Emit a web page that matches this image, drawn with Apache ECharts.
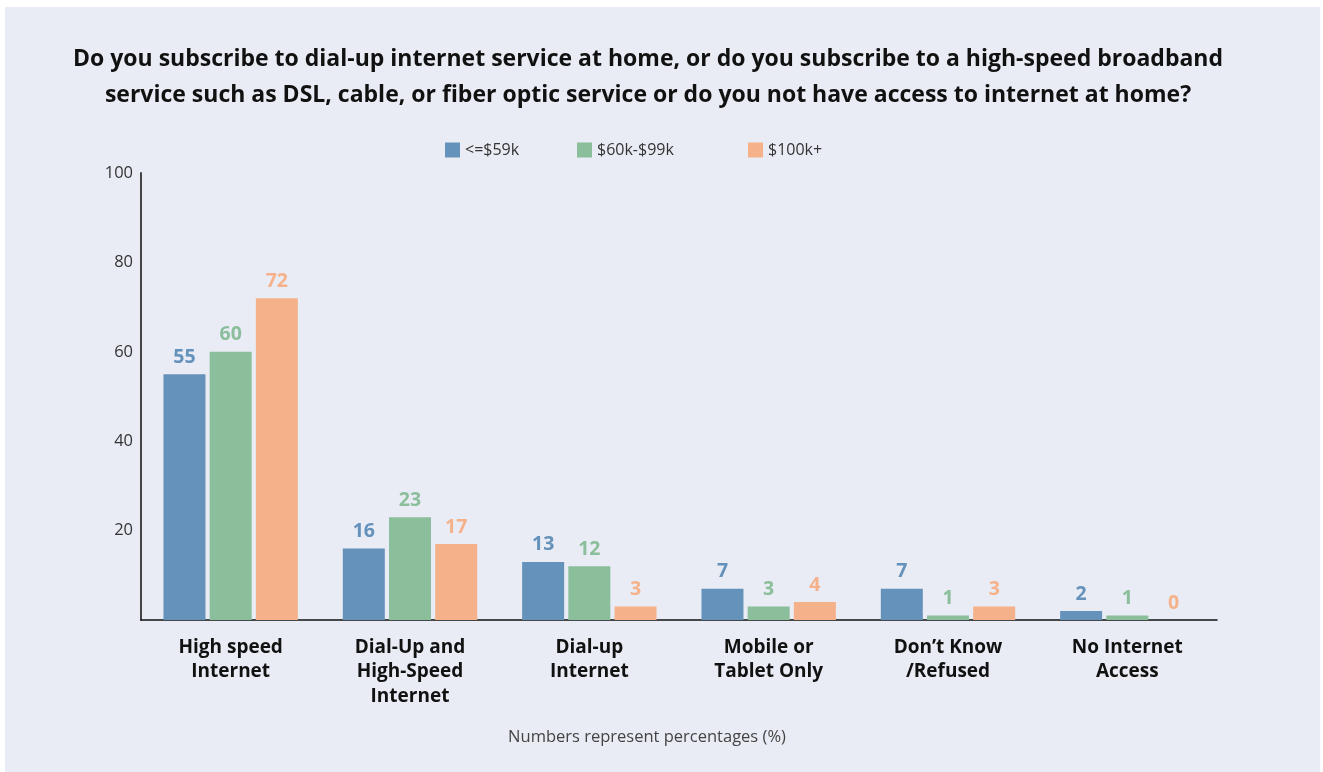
<!DOCTYPE html>
<html>
<head>
<meta charset="utf-8">
<script src="https://cdn.jsdelivr.net/npm/echarts@6/dist/echarts.min.js"></script>
<style>
  html, body { margin: 0; padding: 0; background: #ffffff; }
  #chart { position: absolute; left: 5px; top: 7px; width: 1315px; height: 765px; background: #e9ecf4; }
</style>
</head>
<body>
<div id="chart"></div>
<script>
// Survey answers by household income
const categories = [
  'High speed\nInternet',
  'Dial-Up and\nHigh-Speed\nInternet',
  'Dial-up\nInternet',
  'Mobile or\nTablet Only',
  'Don\u2019t Know\n/Refused',
  'No Internet\nAccess'
];
const seriesNames = ['<=$59k', '$60k-$99k', '$100k+'];
const lowIncome = [55, 16, 13, 7, 7, 2];
const midIncome = [60, 23, 12, 3, 1, 1];
const highIncome = [72, 17, 3, 4, 3, 0];
const colors = ['#6592bb', '#8bbe9b', '#f5b28a'];

const titleText = 'Do you subscribe to dial-up internet service at home, or do you subscribe to a high-speed broadband\nservice such as DSL, cable, or fiber optic service or do you not have access to internet at home?';
const noteText = 'Numbers represent percentages (%)';

const FONT = '"Open Sans", Roboto, sans-serif';
// one legend box per income band, at its own left offset
const legendLefts = [435, 567, 738];

const chart = echarts.init(document.getElementById('chart'), null, { renderer: 'canvas' });

function barSeries(name, data, color) {
  return {
    name: name,
    type: 'bar',
    data: data,
    barWidth: 42,
    barGap: '10%',
    itemStyle: { color: color },
    label: {
      show: true,
      position: 'top',
      distance: 7,
      color: color,
      fontFamily: FONT,
      fontWeight: 'bold',
      fontSize: 19.5
    }
  };
}

chart.setOption({
  animation: false,
  textStyle: { fontFamily: FONT },
  legend: seriesNames.map((n, i) => ({
    data: [n],
    left: legendLefts[i],
    top: 130,
    itemWidth: 15,
    itemHeight: 15,
    icon: 'rect',
    textStyle: { fontSize: 16, color: '#333', fontFamily: FONT }
  })),
  grid: { left: 136, right: 103, top: 166, bottom: 152, containLabel: false },
  xAxis: {
    type: 'category',
    data: categories,
    axisLine: { lineStyle: { color: '#111', width: 1.5 } },
    axisTick: { show: false },
    axisLabel: {
      interval: 0,
      margin: 15,
      color: '#111',
      fontFamily: FONT,
      fontWeight: 'bold',
      fontSize: 19,
      lineHeight: 24.5,
      verticalAlign: 'top'
    }
  },
  yAxis: {
    type: 'value',
    min: 0,
    max: 100,
    interval: 20,
    axisLine: { show: true, lineStyle: { color: '#454545', width: 2 } },
    axisTick: { show: false },
    splitLine: { show: false },
    axisLabel: {
      showMinLabel: false,
      margin: 8,
      color: '#333',
      fontFamily: FONT,
      fontSize: 16.5
    }
  },
  series: [
    barSeries(seriesNames[0], lowIncome, colors[0]),
    barSeries(seriesNames[1], midIncome, colors[1]),
    barSeries(seriesNames[2], highIncome, colors[2])
  ],
  graphic: [
    {
      type: 'text',
      x: 643,
      y: 34,
      style: {
        text: titleText,
        align: 'center',
        verticalAlign: 'top',
        font: 'bold 23px ' + FONT,
        lineHeight: 36,
        fill: '#111'
      }
    },
    {
      type: 'text',
      x: 642,
      y: 722,
      style: {
        text: noteText,
        align: 'center',
        verticalAlign: 'top',
        font: '16.5px ' + FONT,
        fill: '#444'
      }
    }
  ]
});
</script>
</body>
</html>
